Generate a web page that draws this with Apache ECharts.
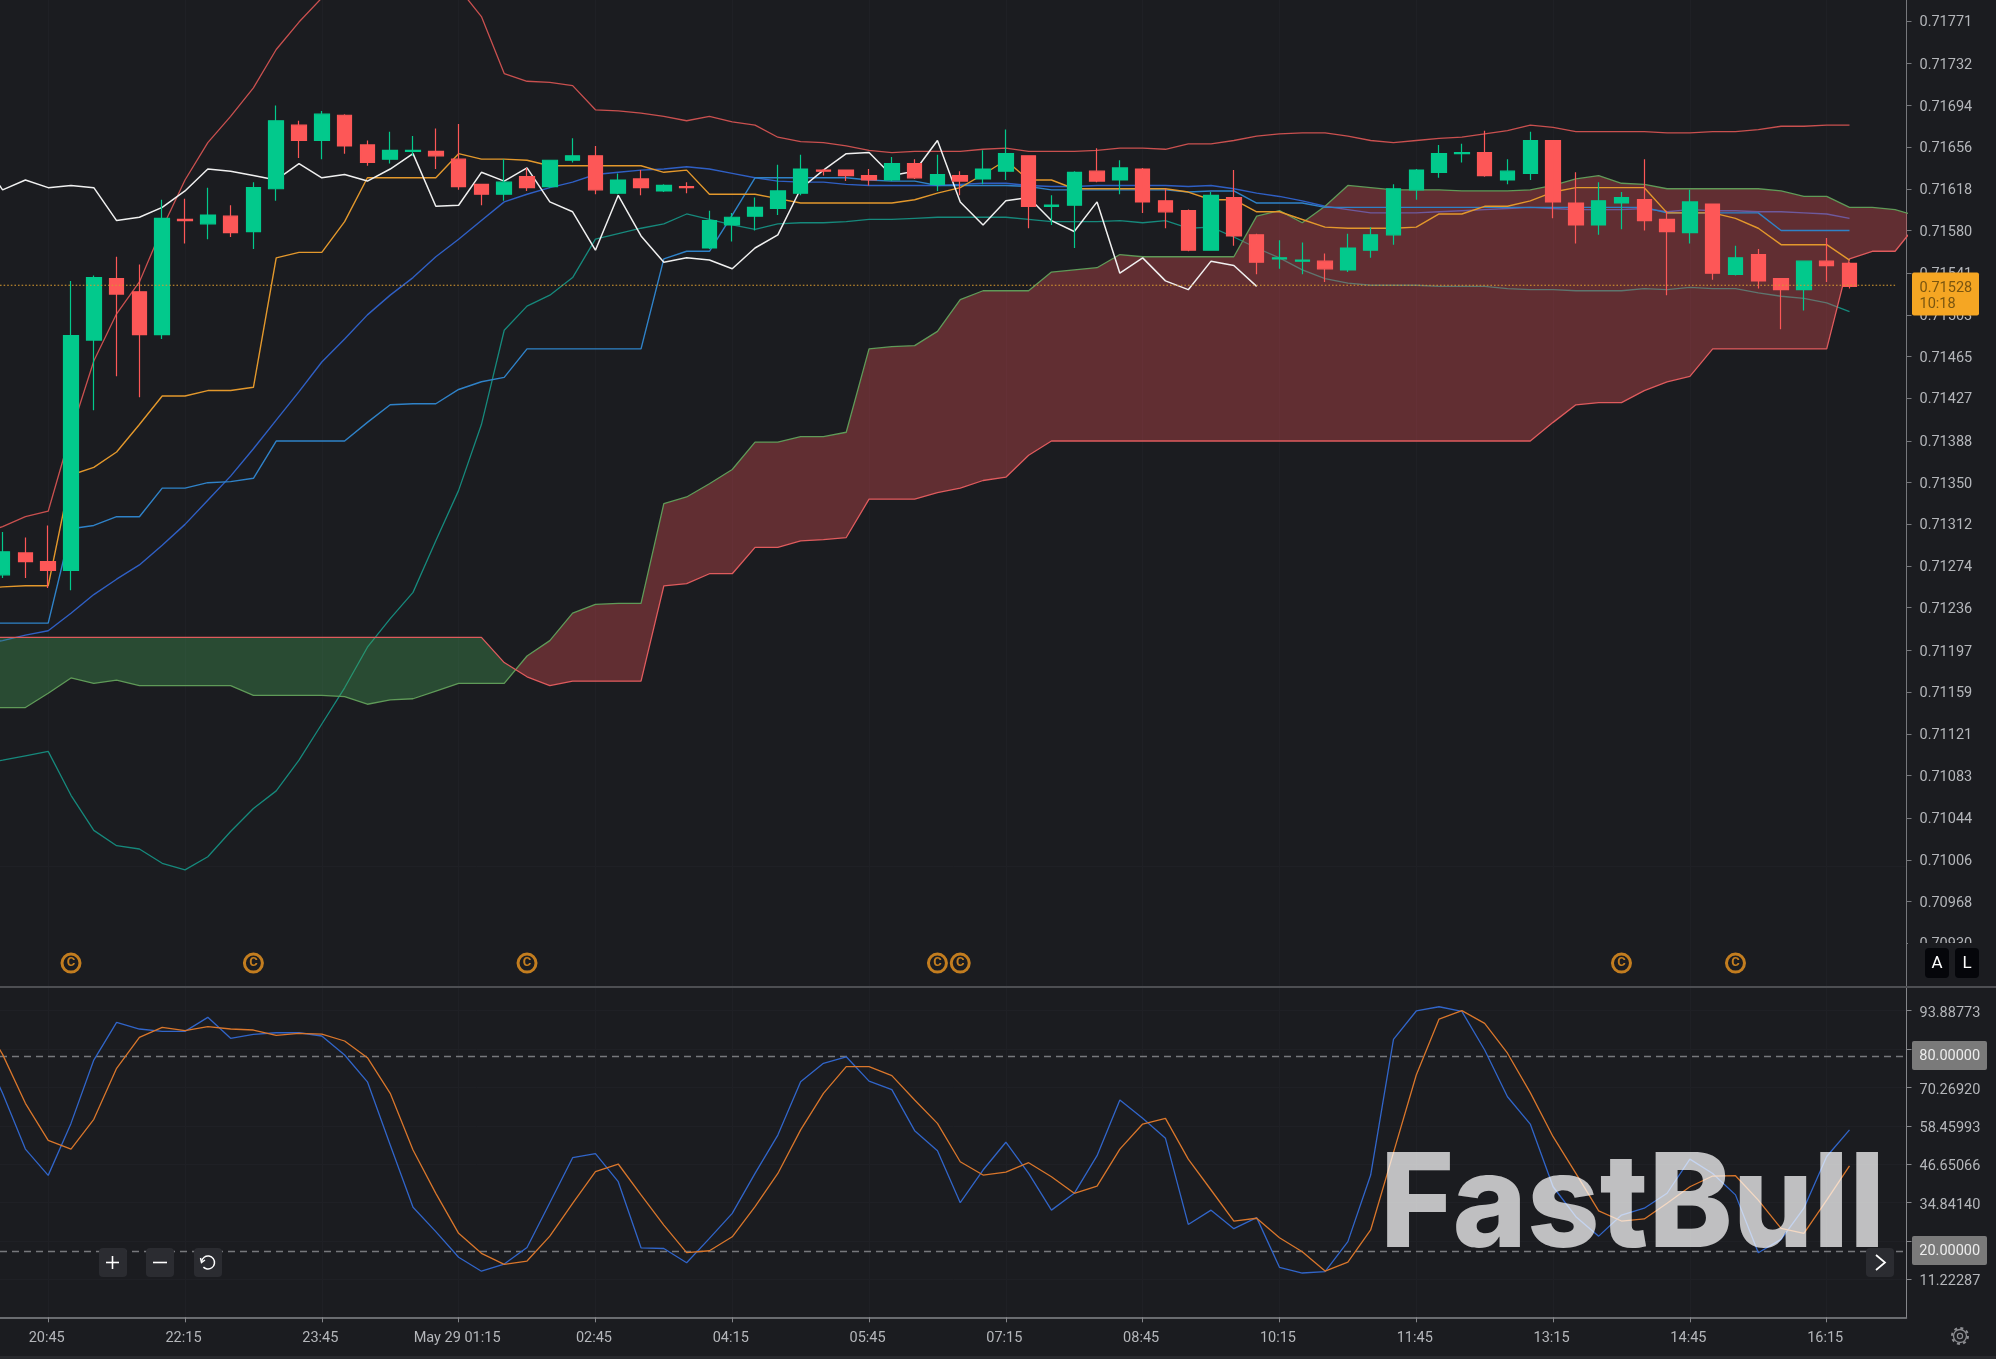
<!DOCTYPE html>
<html>
<head>
<meta charset="utf-8">
<style>html,body{margin:0;padding:0;background:#1b1c20}#c{width:1996px;height:1359px}</style>
<script src="https://cdn.jsdelivr.net/npm/echarts@6/dist/echarts.min.js"></script>
</head>
<body>
<div id="c"></div>
<script>
// ---- values are in 1e-5 price points; candle arrays start at bar 0, line arrays at bar -1
const opens=[71266,71286,71278,71270,71480,71536,71524,71485,71590,71586,
71593,71579,71618,71676,71662,71685,71658,71645,71652,71652,
71645,71622,71613,71629,71620,71644,71648,71614,71627,71616,
71620,71564,71585,71593,71600,71614,71635,71635,71630,71626,
71641,71622,71630,71627,71634,71648,71602,71603,71634,71626,
71636,71607,71598,71562,71610,71576,71554,71552,71552,71544,
71562,71576,71617,71633,71650,71651,71626,71632,71662,71605,
71585,71605,71608,71590,71578,71604,71540,71558,71536,71526,
71552,71550];
const closes=[71287,71278,71270,71484,71537,71522,71485,71591,71589,71594,
71578,71619,71680,71662,71686,71657,71642,71653,71653,71648,
71620,71613,71624,71619,71644,71648,71617,71626,71619,71621,
71619,71589,71592,71601,71616,71636,71634,71630,71626,71641,
71628,71631,71625,71636,71650,71602,71603,71633,71625,71637,
71606,71597,71562,71612,71575,71551,71555,71553,71545,71564,
71576,71618,71635,71650,71651,71630,71634,71662,71606,71585,
71607,71610,71589,71579,71606,71541,71555,71534,71526,71552,
71548,71529];
const lows=[71263,71263,71254,71252,71416,71447,71428,71481,71568,71572,
71574,71563,71607,71646,71645,71650,71639,71641,71648,71636,
71617,71603,71607,71616,71619,71642,71613,71613,71612,71615,
71614,71563,71570,71580,71594,71612,71630,71625,71621,71625,
71627,71616,71612,71622,71626,71582,71585,71564,71624,71613,
71596,71582,71561,71562,71566,71540,71545,71540,71533,71542,
71555,71567,71608,71628,71642,71629,71622,71626,71591,71568,
71576,71581,71580,71521,71568,71535,71539,71527,71490,71507,
71533,71527];
const highs=[71305,71300,71311,71534,71539,71556,71549,71608,71609,71619,
71603,71624,71694,71680,71689,71686,71662,71670,71666,71673,
71677,71622,71645,71637,71644,71664,71657,71632,71635,71622,
71624,71598,71596,71610,71640,71649,71636,71635,71636,71647,
71645,71649,71634,71653,71672,71648,71612,71634,71655,71644,
71637,71618,71599,71615,71635,71577,71571,71569,71559,71577,
71583,71622,71636,71658,71659,71671,71645,71670,71662,71633,
71624,71615,71645,71598,71617,71604,71566,71563,71536,71552,
71573,71551];
const bbUpper=[71302,71310,71319,71324,71396,71461,71504,71533,71582,71626,
71660,71684,71710,71745,71770,71792,71812,71824,71827,71827,
71820,71801,71775,71723,71716,71715,71712,71690,71689,71687,
71684,71680,71684,71679,71676,71665,71661,71660,71657,71653,
71651,71652,71652,71652,71654,71655,71652,71652,71652,71653,
71655,71655,71654,71659,71659,71662,71666,71668,71669,71669,
71666,71662,71660,71662,71664,71665,71668,71671,71676,71674,
71670,71670,71670,71670,71669,71669,71670,71670,71672,71675,
71675,71676,71676];
const bbMiddle=[71203,71206,71211,71215,71231,71248,71262,71275,71293,71312,
71334,71356,71381,71407,71433,71460,71481,71503,71521,71537,
71556,71572,71589,71606,71613,71619,71624,71631,71633,71635,
71636,71638,71636,71632,71628,71625,71624,71624,71622,71621,
71621,71621,71621,71622,71623,71623,71621,71620,71620,71621,
71621,71621,71621,71620,71621,71618,71614,71611,71607,71602,
71599,71596,71596,71596,71597,71598,71599,71600,71601,71600,
71599,71599,71599,71600,71597,71599,71598,71598,71597,71597,
71596,71595,71591];
const bbLower=[71094,71097,71101,71105,71065,71033,71019,71016,71003,70997,
71009,71032,71053,71069,71097,71130,71163,71200,71226,71250,
71297,71343,71403,71489,71511,71521,71537,71572,71577,71582,
71586,71595,71590,71585,71581,71586,71587,71587,71588,71590,
71590,71591,71592,71592,71592,71592,71590,71588,71588,71588,
71589,71587,71589,71582,71583,71574,71564,71555,71544,71536,
71532,71530,71530,71530,71529,71529,71529,71527,71526,71526,
71525,71525,71525,71527,71526,71528,71527,71527,71523,71520,
71518,71514,71506];
const kijun=[71222,71222,71222,71222,71308,71311,71319,71319,71345,71345,
71350,71351,71354,71388,71388,71388,71388,71405,71421,71422,
71422,71435,71442,71446,71472,71472,71472,71472,71472,71472,
71554,71561,71561,71594,71628,71628,71628,71628,71628,71626,
71625,71625,71621,71621,71621,71621,71620,71617,71617,71617,
71617,71617,71617,71615,71616,71616,71605,71605,71605,71601,
71601,71601,71601,71601,71601,71601,71601,71601,71601,71601,
71601,71601,71601,71601,71596,71596,71596,71596,71596,71580,
71580,71580,71580];
const tenkan=[71253,71255,71256,71256,71357,71364,71378,71403,71429,71429,
71434,71434,71437,71555,71560,71560,71588,71628,71628,71628,
71628,71650,71645,71645,71644,71639,71639,71639,71639,71639,
71633,71635,71613,71613,71613,71609,71605,71605,71605,71605,
71605,71608,71614,71619,71631,71644,71626,71626,71618,71618,
71618,71618,71618,71615,71608,71608,71597,71597,71590,71583,
71582,71582,71582,71583,71595,71595,71602,71602,71607,71615,
71619,71619,71619,71619,71596,71596,71596,71591,71582,71567,
71567,71567,71553];
const chikou=[71648,71617,71626,71619,71621,71619,71589,71592,71601,71616,
71636,71634,71630,71626,71641,71628,71631,71625,71636,71650,
71602,71603,71633,71625,71637,71606,71597,71562,71612,71575,
71551,71555,71553,71545,71564,71576,71618,71635,71650,71651,
71630,71634,71662,71606,71585,71607,71610,71589,71579,71606,
71541,71555,71534,71526,71552,71548,71529];
const spanA=[71145,71145,71145,71158,71172,71167,71170,71165,71165,71165,
71165,71165,71156,71156,71156,71156,71155,71148,71152,71153,
71160,71167,71167,71167,71192,71206,71231,71239,71240,71240,
71331,71337,71349,71362,71387,71387,71392,71392,71396,71472,
71474,71475,71488,71517,71525,71525,71525,71542,71544,71546,
71558,71556,71556,71556,71556,71556,71593,71598,71587,71602,
71621,71619,71617,71617,71617,71616,71616,71616,71617,71621,
71627,71630,71623,71622,71618,71618,71618,71618,71618,71616,
71611,71611,71601,71601,71599,71593];
const spanB=[71209,71209,71209,71209,71209,71209,71209,71209,71209,71209,
71209,71209,71209,71209,71209,71209,71209,71209,71209,71209,
71209,71209,71209,71186,71173,71165,71169,71169,71169,71169,
71256,71258,71267,71267,71291,71291,71297,71298,71300,71335,
71335,71335,71341,71345,71352,71355,71375,71388,71388,71388,
71388,71388,71388,71388,71388,71388,71388,71388,71388,71388,
71388,71388,71388,71388,71388,71388,71388,71388,71388,71405,
71421,71423,71423,71434,71442,71447,71472,71472,71472,71472,
71472,71472,71554,71561,71561,71587];
const stochK=[83.84,68.45,51.3,43.2,59.2,78.7,90.3,88.25,87.53,87.53,
91.84,85.4,86.6,87.1,87.1,86.1,80.25,72.0,52.55,33.4,
25.9,18.0,13.7,15.9,21.0,34.8,48.65,49.9,41.26,20.9,
20.7,16.3,23.8,31.5,43.8,55.6,72.0,77.7,79.7,72.2,
69.6,56.96,50.8,34.8,44.85,53.4,43.8,32.5,37.67,49.26,
66.4,60.75,54.6,28.1,32.5,26.8,30.2,14.9,13.15,13.56,
22.8,43.3,85.07,93.8,95.1,93.7,81.8,67.4,59.0,39.7,
30.5,24.5,31.0,33.1,37.7,48.2,43.8,37.2,19.4,23.5,
33.1,49.0,57.2];
const stochD=[92.05,80.45,65.37,53.98,51.3,60.45,76.15,85.7,88.75,87.74,
88.97,88.25,87.94,86.3,86.9,86.7,84.56,79.43,68.45,51.0,
37.67,25.36,19.2,15.8,16.84,24.5,34.6,44.34,46.7,37.2,
27.9,19.4,20.0,24.3,33.6,43.8,57.2,68.45,76.66,76.66,
73.9,66.4,59.2,47.4,43.3,44.2,47.1,42.8,37.67,39.9,
51.3,59.0,60.75,48.2,38.7,29.15,30.0,24.0,19.7,13.76,
16.5,26.4,50.2,74.1,91.3,93.9,90.0,80.8,68.66,55.1,
43.8,32.3,29.15,29.8,34.6,39.7,43.0,43.1,35.6,26.9,
25.36,35.6,46.1];
const priceTicks=[71771,71732,71694,71656,71618,71580,71541,71503,71465,71427,71388,71350,71312,71274,71236,71197,71159,71121,71083,71044,71006,70968,70930];
const stochTicks=[93.88773,82.07846,70.26920,58.45993,46.65066,34.84140,23.03213,11.22287];
const stochLevels=[80,20];
const timeLabels=['20:45','22:15','23:45','May 29 01:15','02:45','04:15','05:45','07:15','08:45','10:15','11:45','13:15','14:45','16:15'];
const timeBars=[2,8,14,20,26,32,38,44,50,56,62,68,74,80];
const markerBars=[3,11,23,41,42,71,76];
const lastPriceLevel=71530;
const lastPriceText='0.71528', countdownText='10:18';

// ---- layout constants
const BG='#1b1c20',TXT='#b4b6ba',FONT='Roboto';
const AX_X=1906.5;
const firstBar=-1;
const xMin=-0.114,xMax=83.5;
const p=v=>v/1e5;
const xy=(arr)=>arr.map((v,k)=>[k+firstBar,p(v)]);
const xyRaw=(arr)=>arr.map((v,k)=>[k+firstBar,v]);
const labelAt={};timeBars.forEach((b,j)=>{labelAt[b]=timeLabels[j];});

const candleData=opens.map((o,k)=>[k,p(o),p(closes[k]),p(lows[k]),p(highs[k])]);

// cloud polygons (green where A under B, red where A above B)
let cross=null;
for(let k=0;k<spanA.length-1;k++){
  const d0=spanA[k]-spanB[k],d1=spanA[k+1]-spanB[k+1];
  if(d0<0&&d1>0){const t=-d0/(d1-d0);cross={k,t,x:k+t+firstBar,y:spanA[k]+(spanA[k+1]-spanA[k])*t};break;}
}
function cloudPts(api,from,to,withCrossEnd,withCrossStart){
  const top=[],bot=[];
  if(withCrossStart){top.push(api.coord([cross.x,p(cross.y)]));}
  for(let k=from;k<=to;k++){top.push(api.coord([k+firstBar,p(spanA[k])]));bot.unshift(api.coord([k+firstBar,p(spanB[k])]));}
  if(withCrossEnd){top.push(api.coord([cross.x,p(cross.y)]));}
  return top.concat(bot);
}
const lineS=(name,arr,color,w,z,extra)=>Object.assign({name,type:'line',xAxisIndex:0,yAxisIndex:0,data:xy(arr),symbol:'none',silent:true,z,
  lineStyle:{color,width:w},itemStyle:{color},animation:false},extra||{});

const yMax=p(71790.1),yMin=p(70891.1);
const markerLevel=p(70912);

const option={
  animation:false,
  backgroundColor:BG,
  grid:[{left:0,top:0,width:AX_X,height:986},{left:0,top:987,width:AX_X,height:330.3}],
  xAxis:[
    {type:'value',gridIndex:0,min:xMin,max:xMax,axisLine:{show:false},axisTick:{show:false},axisLabel:{show:false},splitLine:{show:false}},
    {type:'value',gridIndex:1,min:xMin,max:xMax,
      axisLine:{show:true,onZero:false,lineStyle:{color:'#85868a',width:1.5}},
      axisTick:{show:true,length:5,customValues:timeBars,lineStyle:{color:'#85868a'}},
      axisLabel:{show:true,customValues:timeBars,formatter:v=>labelAt[v]||'',color:TXT,fontFamily:FONT,fontSize:14.5,margin:14,padding:[0,3,0,0]},
      splitLine:{show:false}}
  ],
  yAxis:[
    {type:'value',gridIndex:0,position:'right',min:yMin,max:yMax,
      axisLine:{show:true,onZero:false,lineStyle:{color:'#77787c',width:1}},
      axisTick:{show:true,length:5,customValues:priceTicks.map(p),lineStyle:{color:'#77787c'}},
      axisLabel:{show:true,customValues:priceTicks.map(p),formatter:v=>'{a|'+v.toFixed(5)+'}',color:TXT,fontFamily:FONT,fontSize:14.5,margin:13,align:'left',
        rich:{a:{color:TXT,fontFamily:FONT,fontSize:14.5,padding:[3,0,0,0]}}},
      splitLine:{show:false}},
    {type:'value',gridIndex:1,position:'right',min:-0.48,max:101.18,
      axisLine:{show:true,onZero:false,lineStyle:{color:'#85868a',width:1}},
      axisTick:{show:true,length:5,customValues:stochTicks,lineStyle:{color:'#85868a'}},
      axisLabel:{show:true,customValues:stochTicks,formatter:v=>'{a|'+v.toFixed(5)+'}',color:TXT,fontFamily:FONT,fontSize:14.5,margin:13,align:'left',
        rich:{a:{color:TXT,fontFamily:FONT,fontSize:14.5,padding:[5,0,0,0]}}},
      splitLine:{show:false}}
  ],
  series:[
    {name:'grid',type:'line',xAxisIndex:0,yAxisIndex:0,data:[],silent:true,z:0,symbol:'none',
      markLine:{z:0,silent:true,symbol:['none','none'],label:{show:false},animation:false,lineStyle:{color:'#1f2025',width:1,type:'solid'},
        data:timeBars.map(b=>({xAxis:b})).concat(priceTicks.map(t=>({yAxis:p(t)})))}},
    {name:'grid2',type:'line',xAxisIndex:1,yAxisIndex:1,data:[],silent:true,z:0,symbol:'none',
      markLine:{z:0,silent:true,symbol:['none','none'],label:{show:false},animation:false,lineStyle:{color:'#1f2025',width:1,type:'solid'},
        data:timeBars.map(b=>({xAxis:b})).concat(stochTicks.map(t=>({yAxis:t})))}},
    lineS('BB upper',bbUpper,'#c9504f',1.3,2),
    lineS('BB middle',bbMiddle,'#2f5fc4',1.4,2),
    lineS('BB lower',bbLower,'#16897c',1.3,2),
    {name:'Cloud',type:'custom',xAxisIndex:0,yAxisIndex:0,z:3,silent:true,clip:true,
      data:[[0,p(71500)],[1,p(71500)]],
      renderItem:(params,api)=>{
        const g=params.dataIndex===0;
        const pts=g?cloudPts(api,0,cross.k,true,false):cloudPts(api,cross.k+1,spanA.length-1,false,true);
        return {type:'polygon',shape:{points:pts},style:{fill:g?'rgba(70,162,89,0.35)':'rgba(230,79,86,0.35)'}};
      }},
    lineS('Span A',spanA,'#5f9a58',1.3,4),
    lineS('Span B',spanB,'#df5b5d',1.3,4),
    lineS('Kijun',kijun,'#2f82c8',1.4,5),
    lineS('Tenkan',tenkan,'#e3982c',1.4,5),
    lineS('Chikou',chikou,'#f0f0f0',1.5,5),
    {name:'Candles',type:'candlestick',xAxisIndex:0,yAxisIndex:0,data:candleData,barWidth:15,z:6,silent:true,clip:true,
      itemStyle:{color:'#02c98c',color0:'#fd5757',borderColor:'#02c98c',borderColor0:'#fd5757',borderWidth:1.2}},
    {name:'Last price',type:'line',xAxisIndex:0,yAxisIndex:0,z:7,silent:true,symbol:'none',
      data:[[xMin,p(lastPriceLevel)],[83.0,p(lastPriceLevel)]],
      lineStyle:{color:'#d99a2f',width:1.2,type:[1.6,2]}},
    {name:'Events',type:'scatter',xAxisIndex:0,yAxisIndex:0,z:8,silent:true,symbol:'circle',symbolSize:18,
      data:markerBars.map(b=>[b,markerLevel]),
      itemStyle:{color:'rgba(0,0,0,0)',borderColor:'#ee961f',borderWidth:3},
      label:{show:true,position:'inside',formatter:'C',color:'#ee961f',fontFamily:'Roboto',fontWeight:'bold',fontSize:13}},
    {name:'%K',type:'line',xAxisIndex:1,yAxisIndex:1,data:xyRaw(stochK),symbol:'none',silent:true,z:3,lineStyle:{color:'#3165c9',width:1.3},
      markLine:{z:2,silent:true,symbol:['none','none'],label:{show:false},animation:false,
        lineStyle:{color:'#77787c',width:1.3,type:[7,5]},data:stochLevels.map(v=>({yAxis:v}))}},
    {name:'%D',type:'line',xAxisIndex:1,yAxisIndex:1,data:xyRaw(stochD),symbol:'none',silent:true,z:4,lineStyle:{color:'#d9762b',width:1.3}}
  ],
  graphic:{elements:[
    {type:'rect',z:50,shape:{x:1908,y:943,width:88,height:43},style:{fill:BG},silent:true},
    {type:'rect',z:50,shape:{x:0,y:986,width:1996,height:2},style:{fill:'#4d4e52'},silent:true},
    {type:'rect',z:50,shape:{x:0,y:1356,width:1996,height:3},style:{fill:'#28292d'},silent:true},
    // price tag
    {type:'rect',z:60,shape:{x:1912,y:272.5,width:67,height:43,r:2},style:{fill:'#f5a623'},silent:true},
    {type:'text',z:61,x:1919.5,y:288.5,style:{text:lastPriceText,fill:'#7a5510',font:'14.5px Roboto',verticalAlign:'middle'},silent:true},
    {type:'text',z:61,x:1919.5,y:304.5,style:{text:countdownText,fill:'#7a5510',font:'14.5px Roboto',verticalAlign:'middle'},silent:true},
    // A / L buttons
    {type:'rect',z:60,shape:{x:1925,y:948,width:24,height:30,r:4},style:{fill:'#05060a'},silent:true},
    {type:'rect',z:60,shape:{x:1955,y:948,width:24,height:30,r:4},style:{fill:'#05060a'},silent:true},
    {type:'text',z:61,x:1937,y:964,style:{text:'A',fill:'#ffffff',font:'17px Roboto',align:'center',verticalAlign:'middle'},silent:true},
    {type:'text',z:61,x:1967,y:964,style:{text:'L',fill:'#ffffff',font:'17px Roboto',align:'center',verticalAlign:'middle'},silent:true},
    // level tags
    {type:'rect',z:60,shape:{x:1912,y:1041,width:75,height:29,r:2},style:{fill:'#7a7a7a'},silent:true},
    {type:'text',z:61,x:1919.3,y:1056.8,style:{text:'80.00000',fill:'#ececec',font:'14.5px Roboto',verticalAlign:'middle'},silent:true},
    {type:'rect',z:60,shape:{x:1912,y:1236,width:75,height:29,r:2},style:{fill:'#7a7a7a'},silent:true},
    {type:'text',z:61,x:1919.3,y:1251.8,style:{text:'20.00000',fill:'#ececec',font:'14.5px Roboto',verticalAlign:'middle'},silent:true},
    // watermark
    {type:'text',z:40,x:1380,y:1208,scaleX:0.99,scaleY:1.02,style:{text:'FastBull',fill:'rgba(255,255,255,0.72)',font:'800 128px Inter',verticalAlign:'middle'},silent:true},
    // zoom controls
    {type:'rect',z:60,shape:{x:99,y:1248,width:28,height:29,r:4},style:{fill:'#2b2c31'},silent:true},
    {type:'rect',z:60,shape:{x:146,y:1248,width:28,height:29,r:4},style:{fill:'#2b2c31'},silent:true},
    {type:'rect',z:60,shape:{x:194,y:1248,width:28,height:29,r:4},style:{fill:'#2b2c31'},silent:true},
    {type:'rect',z:60,shape:{x:1866,y:1248,width:28,height:29,r:4},style:{fill:'#2b2c31'},silent:true},
    {type:'line',z:61,shape:{x1:106,y1:1262.5,x2:119,y2:1262.5},style:{stroke:'#fff',lineWidth:1.6},silent:true},
    {type:'line',z:61,shape:{x1:112.5,y1:1256,x2:112.5,y2:1269},style:{stroke:'#fff',lineWidth:1.6},silent:true},
    {type:'line',z:61,shape:{x1:153,y1:1262.5,x2:167,y2:1262.5},style:{stroke:'#fff',lineWidth:1.6},silent:true},
    {type:'arc',z:61,shape:{cx:208,cy:1262.5,r:6.5,startAngle:-Math.PI*0.95,endAngle:Math.PI*0.75},style:{stroke:'#fff',fill:null,lineWidth:1.5},silent:true},
    {type:'polyline',z:61,shape:{points:[[200.5,1258],[201.5,1262.5],[205,1260]]},style:{stroke:'#fff',fill:null,lineWidth:1.4},silent:true},
    {type:'polyline',z:61,shape:{points:[[1876,1255],[1885,1262.5],[1876,1270]]},style:{stroke:'#fff',fill:null,lineWidth:1.7},silent:true},
    // settings gear
    {type:'circle',z:61,shape:{cx:1960,cy:1336,r:6.5},style:{stroke:'#8d8e92',fill:null,lineWidth:1.3},silent:true},
    {type:'circle',z:61,shape:{cx:1960,cy:1336,r:8},style:{stroke:'#8d8e92',fill:null,lineWidth:2,lineDash:[3,3.3]},silent:true},
    {type:'circle',z:61,shape:{cx:1960,cy:1336,r:2.6},style:{stroke:'#8d8e92',fill:null,lineWidth:1.2},silent:true}
  ]}
};
const chart=echarts.init(document.getElementById('c'),null,{renderer:'canvas',width:1996,height:1359});
chart.setOption(option);
</script>
</body>
</html>
